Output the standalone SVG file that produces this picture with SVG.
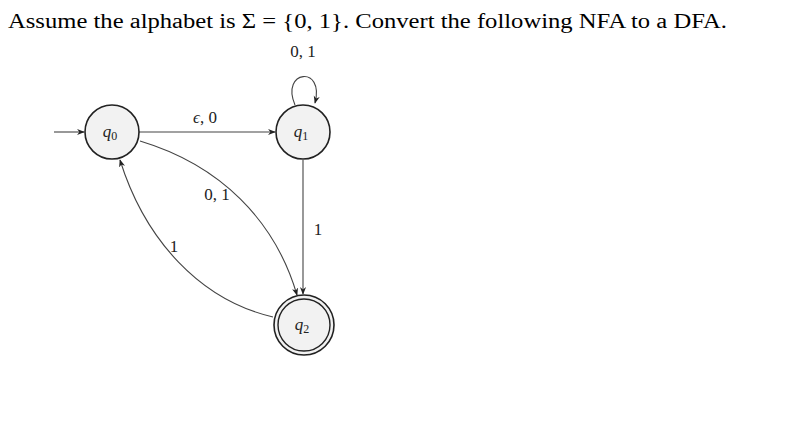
<svg xmlns="http://www.w3.org/2000/svg" width="789" height="442" viewBox="0 0 789 442">
<style>
.t{font-family:"Liberation Serif","DejaVu Serif",serif;font-size:20px;fill:#000}
.l{font-family:"Liberation Serif","DejaVu Serif",serif;font-size:17px;fill:#222}
.s{font-family:"Liberation Serif","DejaVu Serif",serif;font-size:17px;font-style:italic;fill:#222}
.n{fill:#f2f2f2;stroke:#222;stroke-width:1.6}
.e{fill:none;stroke:#444;stroke-width:1.1;marker-end:url(#a)}
</style>
<defs><marker id="a" viewBox="0 0 10 10" refX="9" refY="5" markerWidth="7" markerHeight="7" orient="auto"><path d="M0,1 L10,5 L0,9 L3,5 Z" fill="#222"/></marker></defs>
<rect width="789" height="442" fill="#fff"/>
<text class="t" x="8" y="28" textLength="719" lengthAdjust="spacingAndGlyphs">Assume the alphabet is Σ = {0, 1}. Convert the following NFA to a DFA.</text>
<g id="connectors">
<line class="e" x1="54" y1="132" x2="84" y2="132"/>
<line class="e" x1="139" y1="132" x2="275" y2="132"/>
<path class="e" d="M295,105 C280,70 325,65 315,103"/>
<path class="e" d="M140,141 C220,165 275,220 297,295"/>
<path class="e" d="M273,317 C200,300 145,240 120,160"/>
<line class="e" x1="303" y1="160" x2="303" y2="294"/>
</g>
<text class="l" x="303" y="57" text-anchor="middle">0, 1</text>
<text class="l" x="205" y="123" text-anchor="middle"><tspan font-style="italic">ϵ</tspan>, 0</text>
<text class="l" x="217" y="200" text-anchor="middle">0, 1</text>
<text class="l" x="318" y="235" text-anchor="middle">1</text>
<text class="l" x="174" y="252" text-anchor="middle">1</text>
<g id="q0"><circle class="n" cx="112" cy="132" r="27"/><text class="s" x="110" y="137" text-anchor="middle">q<tspan font-style="normal" font-size="12" dy="3">0</tspan></text></g>
<g id="q1"><circle class="n" cx="303" cy="132" r="27"/><text class="s" x="301" y="137" text-anchor="middle">q<tspan font-style="normal" font-size="12" dy="3">1</tspan></text></g>
<g id="q2"><circle class="n" cx="304" cy="325" r="30"/><circle fill="none" stroke="#222" stroke-width="1.4" cx="304" cy="325" r="26"/><text class="s" x="302" y="330" text-anchor="middle">q<tspan font-style="normal" font-size="12" dy="3">2</tspan></text></g>
</svg>
